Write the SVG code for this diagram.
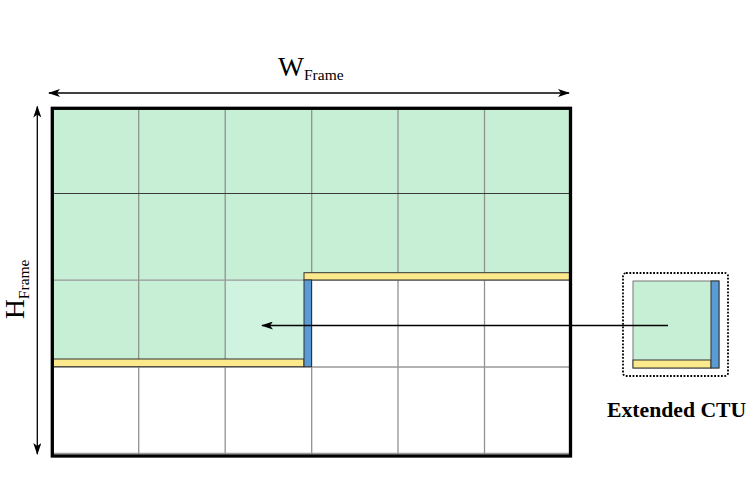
<svg xmlns="http://www.w3.org/2000/svg" width="748" height="485" viewBox="0 0 748 485">
<defs>
<style>
.g{fill:#c6efd6}
.gl{fill:#cff3de}
.y{fill:#fce98c;stroke:#333;stroke-width:1}
.b{fill:#5b9bd5;stroke:#333;stroke-width:1}
.vl{stroke:#8f948f;stroke-width:1.3;fill:none}
.hl{stroke:#999;stroke-width:1.3;fill:none}
.hd{stroke:#3a3a3a;stroke-width:1.1;fill:none}
.ar{stroke:#000;stroke-width:1.3;fill:none}
.t{font-family:"Liberation Serif","Times New Roman",serif;fill:#000}
</style>
<marker id="ah" viewBox="0 0 12 8" refX="11" refY="4" markerWidth="12" markerHeight="8" markerUnits="userSpaceOnUse" orient="auto-start-reverse">
<path d="M0,0 L12,4 L0,8 L3,4 z" fill="#000"/>
</marker>
</defs>
<rect width="748" height="485" fill="#fff"/>

<g id="frame">
<rect class="g" x="52" y="108" width="518" height="172"/>
<rect class="g" x="52" y="280" width="173" height="79"/>
<rect class="gl" x="225" y="280" width="79" height="79"/>
<g id="grid">
<path class="vl" d="M138.7,108V456M225.2,108V456M311.7,108V456M398,108V456M484.5,108V456"/>
<path class="hd" d="M52,193.5H570"/>
<path class="hl" d="M52,280.2H570M52,367H570M52,453.5H570"/>
</g>
<rect class="y" x="52" y="359" width="252" height="7.7"/>
<rect class="y" x="304" y="272.7" width="266" height="7.3"/>
<rect class="b" x="304" y="280" width="7.5" height="86.7"/>
<rect x="52.3" y="108.3" width="518.2" height="347.7" fill="none" stroke="#000" stroke-width="3.3"/>
</g>

<g id="ctu">
<rect x="623" y="273" width="105" height="103" rx="3" fill="none" stroke="#000" stroke-width="1.8" stroke-dasharray="1.8 1.6"/>
<rect class="g" x="633" y="281" width="86" height="87" stroke="#777" stroke-width="1"/>
<rect class="y" x="633" y="360" width="78" height="8"/>
<rect class="b" x="711" y="281" width="8" height="87"/>
<text class="t" x="607" y="416.5" font-size="21.7" font-weight="bold">Extended CTU</text>
</g>

<g id="labels">
<text class="t" x="278" y="75.5" font-size="27.5">W<tspan font-size="15.5" dy="4.5">Frame</tspan></text>
<text class="t" transform="translate(24,319) rotate(-90)" font-size="27.5">H<tspan font-size="15.5" dy="4.5">Frame</tspan></text>
</g>

<g id="connectors">
<line class="ar" x1="49" y1="93" x2="569" y2="93" marker-start="url(#ah)" marker-end="url(#ah)"/>
<line class="ar" x1="37.3" y1="106.5" x2="37.3" y2="454" marker-start="url(#ah)" marker-end="url(#ah)"/>
<line class="ar" x1="668" y1="325.5" x2="262" y2="325.5" marker-end="url(#ah)"/>
</g>
</svg>
